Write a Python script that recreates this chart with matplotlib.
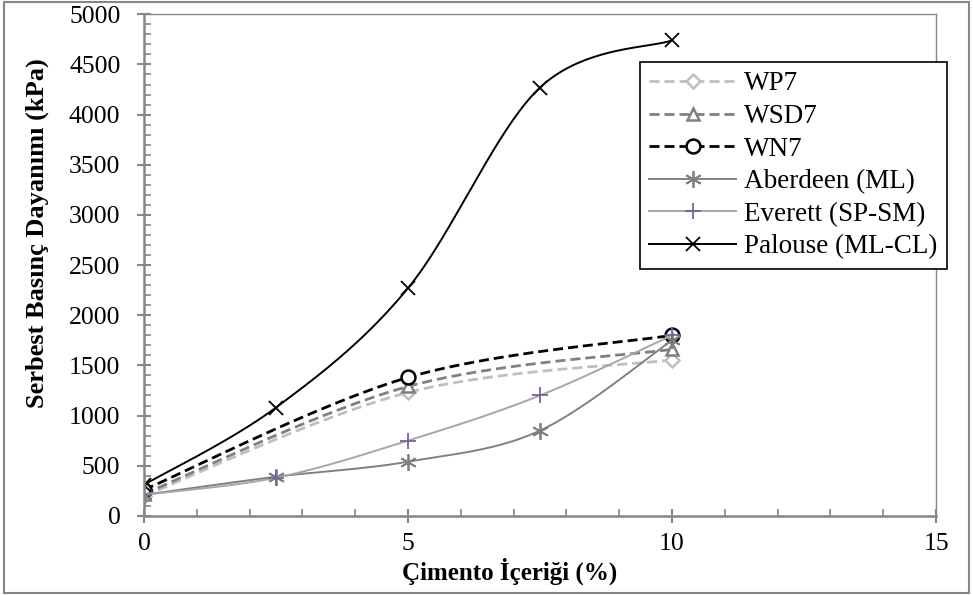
import matplotlib
matplotlib.use("Agg")
import matplotlib.pyplot as plt
import numpy as np
from matplotlib.patches import Rectangle

plt.rcParams["font.family"] = ["Liberation Serif", "DejaVu Serif"]

# ---- data ----
CEMENT = [0, 2.5, 5, 7.5, 10]
CEMENT_W = [0, 5, 10]

WP7 = [200, 1230, 1555]
WSD7 = [220, 1290, 1660]
WN7 = [260, 1380, 1800]
ABERDEEN = [210, 390, 540, 850, 1750]
EVERETT = [210, 380, 750, 1200, 1800]
PALOUSE = [310, 1080, 2270, 4270, 4740]

LABELS = ["WP7", "WSD7", "WN7", "Aberdeen (ML)", "Everett (SP-SM)", "Palouse (ML-CL)"]

GRID_GREY = "#868686"


def smooth(x, y, n=40):
    """Excel-like smoothed line: cubic Bezier with Catmull-Rom tangents."""
    p = np.column_stack([x, y]).astype(float)
    pts = [p[0]]
    for i in range(len(p) - 1):
        p0 = p[i - 1] if i > 0 else p[i]
        p1, p2 = p[i], p[i + 1]
        p3 = p[i + 2] if i + 2 < len(p) else p[i + 1]
        c1 = p1 + (p2 - p0) / 6
        c2 = p2 - (p3 - p1) / 6
        t = np.linspace(0, 1, n)[1:, None]
        seg = ((1 - t) ** 3 * p1 + 3 * (1 - t) ** 2 * t * c1
               + 3 * (1 - t) * t ** 2 * c2 + t ** 3 * p2)
        pts.extend(seg)
    pts = np.array(pts)
    return pts[:, 0], pts[:, 1]


fig = plt.figure(figsize=(9.73, 5.95), dpi=100)
ax = fig.add_axes([0.148, 0.133, 0.814, 0.843])

# x, y, line colour, style, marker, marker colour, marker face, marker size
series = [
    (CEMENT_W, WP7, "#BFBFBF", "--", "D", "#BFBFBF", "white", 7),
    (CEMENT_W, WSD7, "#808080", "--", "^", "#808080", "white", 9),
    (CEMENT_W, WN7, "black", "--", "o", "black", "white", 10),
    (CEMENT, ABERDEEN, "#808080", "-", (6, 2, 0), "#808080", "#808080", 12),
    (CEMENT, EVERETT, "#A6A6A6", "-", "+", "#7A5FA0", "#7A5FA0", 12),
    (CEMENT, PALOUSE, "black", "-", "x", "black", "black", 10),
]

handles = []
for (xs, ys, col, ls, mk, mcol, mfc, ms), lab in zip(series, LABELS):
    sx, sy = smooth(xs, ys)
    lw = 2.0 if ls == "--" else 1.4
    dash = (3.6, 1.8) if ls == "--" else (None, None)
    mew = 1.8 if mk in ("o", "D", "^") else 1.3
    ax.plot(sx, sy, color=col, ls=ls, lw=lw, dashes=dash)
    ax.plot(xs, ys, ls="none", marker=mk, ms=ms, mec=mcol, mfc=mfc, mew=mew)
    h, = ax.plot([], [], color=col, ls=ls, lw=lw, dashes=dash, marker=mk, ms=ms,
                 mec=mcol, mfc=mfc, mew=mew, label=lab)
    handles.append(h)

ax.set_xlim(0, 15)
ax.set_ylim(0, 5000)
ax.set_xticks([0, 5, 10, 15])
ax.set_xticks(np.arange(0, 16, 1), minor=True)
ax.set_yticks(np.arange(0, 5001, 500))
ax.set_yticks(np.arange(0, 5001, 100), minor=True)

for s in ["left", "bottom"]:
    ax.spines[s].set_color(GRID_GREY)
    ax.spines[s].set_linewidth(1.8)
for s in ["top", "right"]:
    ax.spines[s].set_color(GRID_GREY)
    ax.spines[s].set_linewidth(1.0)

ax.tick_params(which="major", direction="inout", length=10, width=1.5,
               color=GRID_GREY, labelsize=18.5, labelcolor="black")
ax.tick_params(which="minor", direction="in", length=5, width=1.2, color=GRID_GREY)
ax.tick_params(axis="y", which="major", pad=12)
ax.tick_params(axis="x", which="major", pad=7)

fig.text(510 / 973, 1 - 571 / 595, "Çimento İçeriği (%)", fontsize=18,
         fontweight="bold", ha="center", va="center")
fig.text(37 / 973, 1 - 233 / 595, "Serbest Basınç Dayanımı (kPa)", fontsize=19,
         fontweight="bold", ha="center", va="center", rotation=90)

leg = ax.legend(handles=handles, loc="upper left", bbox_to_anchor=(0.626, 0.905),
                fontsize=19.5, handlelength=3.2, handletextpad=0.3,
                labelspacing=0.28, borderpad=0.35, borderaxespad=0,
                fancybox=False, framealpha=1)
leg.get_frame().set_edgecolor("black")
leg.get_frame().set_linewidth(1.2)

fig.patches.append(Rectangle((0.004, 0.004), 0.992, 0.992, transform=fig.transFigure,
                             fill=False, edgecolor=GRID_GREY, lw=1.5))

fig.savefig("out.png", dpi=100)
